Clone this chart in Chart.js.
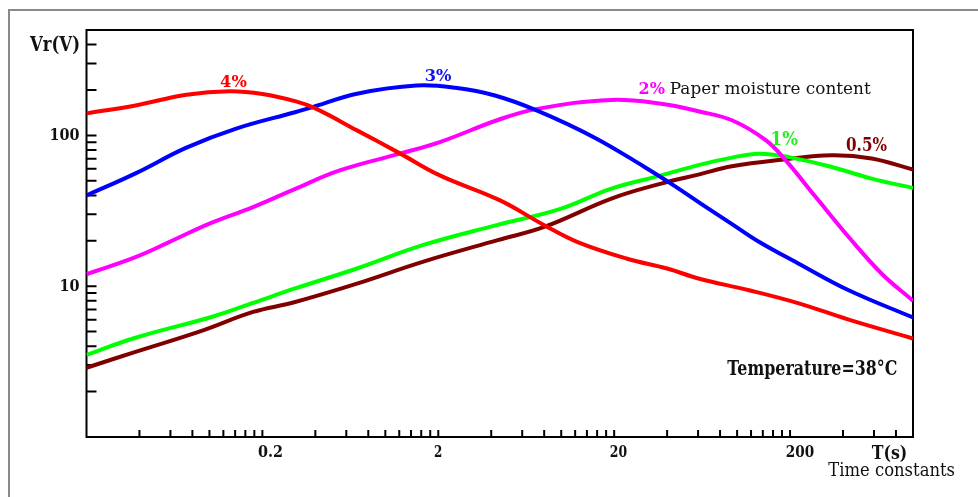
<!DOCTYPE html>
<html>
<head>
<meta charset="utf-8">
<script src="https://cdn.jsdelivr.net/npm/chart.js@4/dist/chart.umd.min.js"></script>
<style>
  html, body { margin: 0; padding: 0; background: #fff; }
  #wrap { position: relative; width: 978px; height: 497px; overflow: hidden; }
  #frame { position: absolute; left: 8px; top: 9px; right: -10px; bottom: -10px;
           border-left: 2px solid #8a8a8a; border-top: 2px solid #8a8a8a; }
  canvas { position: absolute; left: 0; top: 0; }
</style>
</head>
<body>
<div id="wrap"><div id="frame"></div><canvas id="c" width="978" height="497"></canvas></div>
<script>
// Residual voltage Vr (V) against time constant T (s), one curve per paper moisture content.
const T_4   = [0.02, 0.038, 0.074, 0.13, 0.2, 0.31, 0.4, 0.69, 1.21, 2.04, 4.46, 8.0, 12.4, 23.7, 40, 61, 117, 224, 431, 1000];
const VR_4  = [140, 158, 186, 196, 188, 168, 151, 108, 76, 54.3, 37.2, 25.4, 19.6, 15.2, 13.1, 11.2, 9.4, 7.7, 6.0, 4.5];

const T_3   = [0.02, 0.038, 0.074, 0.142, 0.31, 0.4, 0.69, 1.5, 2.5, 4.2, 7.3, 15.4, 29.6, 44, 65, 94, 133, 224, 431, 1000];
const VR_3  = [40, 56, 83, 111, 143, 156, 189, 214, 207, 184, 146, 97, 62, 46.3, 34.1, 25.7, 19.7, 14.1, 9.4, 6.2];

const T_2   = [0.02, 0.038, 0.059, 0.10, 0.177, 0.31, 0.55, 1.21, 2.04, 4.4, 7.3, 19.3, 37, 61, 93.5, 146, 189, 280, 431, 664, 1000];
const VR_2  = [12, 15.6, 19.6, 26, 33.5, 44.4, 58.6, 75.7, 90.3, 127, 150, 172, 162, 144, 126, 92.7, 68.3, 39, 21.2, 12.1, 8];

const T_1   = [0.02, 0.038, 0.105, 0.177, 0.31, 0.69, 1.63, 4.35, 10, 19.3, 37, 61, 93.5, 133, 197, 345, 582, 1000];
const VR_1  = [3.5, 4.55, 6.3, 7.75, 9.7, 13.1, 18.7, 25.5, 32.7, 44.4, 54.3, 63.8, 71.2, 75.7, 71.8, 61.7, 51.7, 44.8];

const T_05  = [0.02, 0.038, 0.092, 0.177, 0.3, 0.69, 1.63, 4.35, 8, 19.3, 37, 61, 93.5, 179, 345, 582, 1000];
const VR_05 = [2.88, 3.67, 5.1, 6.75, 7.8, 10.4, 14.5, 20.2, 24.7, 38.1, 47.9, 55.2, 62.4, 69, 73.8, 70.2, 59.3];

const seriesNames  = ['4%', '3%', '2%', '1%', '0.5%'];
const seriesColors = ['#ff0000', '#0000ff', '#ff00ff', '#00ff00', '#800000'];
const seriesT  = [T_4, T_3, T_2, T_1, T_05];
const seriesVr = [VR_4, VR_3, VR_2, VR_1, VR_05];

// Axis ranges and tick labels
const X_MIN = 0.02, X_MAX = 1000;
const Y_MIN = 1, Y_MAX = 500;
const xMajorTicks = [0.2, 2, 20, 200];
const xTickLabels = ['0.2', '2', '20', '200'];
const yMajorTicks = [10, 100];
const yTickLabels = ['10', '100'];

// Minor ticks at k * base inside every decade of the axis
function decadeTicks(bases, min, max) {
  const out = [];
  bases.forEach(b => { for (let k = 1; k <= 9; k++) { const v = b * k; if (v > min * 1.0001 && v < max * 0.9999) out.push(v); } });
  return out;
}
const xTicks = decadeTicks([0.02, 0.2, 2, 20, 200], X_MIN, X_MAX);
const yTicks = decadeTicks([1, 10, 100], Y_MIN, Y_MAX);

const FONT = '"DejaVu Serif", "Liberation Serif", serif';

// Curve labels, anchored in data coordinates (left edge, baseline)
const curveLabels = [
  { text: '4%',   t: 0.115, v: 209,  size: 16,   width: 26.7, color: '#ff0000', bold: true },
  { text: '3%',   t: 1.675, v: 229,  size: 17,   width: 26.7, color: '#1010f0', bold: true },
  { text: '2%',   t: 27.5,  v: 188,  size: 17.4, width: 26.4, color: '#ff00ff', bold: true },
  { text: 'Paper moisture content', t: 41.4, v: 188, size: 17, width: 201, color: '#111', bold: false },
  { text: '1%',   t: 155,   v: 86,   size: 18,   width: 27.3, color: '#22ee22', bold: true },
  { text: '0.5%', t: 416,   v: 78.7, size: 19,   width: 41,   color: '#800000', bold: true },
  { text: 'Temperature=38°C', t: 88, v: 2.57, size: 19.6, width: 170, color: '#111', bold: true }
];

function fitText(ctx, str, x, y, size, width, color, bold) {
  ctx.save();
  ctx.font = (bold ? 'bold ' : '') + size + 'px ' + FONT;
  ctx.textAlign = 'left';
  ctx.textBaseline = 'alphabetic';
  const w = ctx.measureText(str).width;
  ctx.translate(x, y);
  ctx.scale(width ? width / w : 1, 1);
  ctx.fillStyle = color;
  ctx.fillText(str, 0, 0);
  ctx.restore();
}

const framePlugin = {
  id: 'frameAxes',
  beforeDatasetsDraw(chart) {
    const { ctx, chartArea: a, scales: { x, y } } = chart;
    ctx.save();
    ctx.strokeStyle = '#000';
    ctx.lineWidth = 2;
    ctx.strokeRect(a.left, a.top, a.right - a.left, a.bottom - a.top);
    ctx.beginPath();
    xTicks.forEach(v => { const px = x.getPixelForValue(v); ctx.moveTo(px, a.bottom); ctx.lineTo(px, a.bottom - 7); });
    yTicks.forEach(v => { const py = y.getPixelForValue(v); ctx.moveTo(a.left, py); ctx.lineTo(a.left + 10, py); });
    ctx.stroke();
    ctx.restore();
  },
  afterDraw(chart) {
    const { ctx, chartArea: a, scales: { x, y } } = chart;
    // x tick labels
    const xWidths = [25, 8.3, 17.3, 28.3];
    xMajorTicks.forEach((v, i) => {
      const px = x.getPixelForValue(v);
      fitText(ctx, xTickLabels[i], px - 4.3, a.bottom + 20, 16, xWidths[i], '#111', true);
    });
    // y tick labels
    const yWidths = [20, 30];
    yMajorTicks.forEach((v, i) => {
      const py = y.getPixelForValue(v);
      fitText(ctx, yTickLabels[i], a.left - 7 - yWidths[i], py + 4.5, 17, yWidths[i], '#111', true);
    });
    // axis titles
    fitText(ctx, 'Vr(V)', 30, 50.5, 20, 50, '#111', true);
    fitText(ctx, 'T(s)', 871.7, 459, 18, 35.6, '#111', true);
    fitText(ctx, 'Time constants', 828.3, 476, 18.8, 126.7, '#111', false);
    // curve labels and note
    curveLabels.forEach(l => {
      fitText(ctx, l.text, x.getPixelForValue(l.t), y.getPixelForValue(l.v), l.size, l.width, l.color, l.bold);
    });
  }
};

const datasets = seriesNames.map((name, i) => ({
  label: name,
  data: seriesT[i].map((t, j) => ({ x: t, y: seriesVr[i][j] })),
  borderColor: seriesColors[i],
  backgroundColor: seriesColors[i],
  borderWidth: 4,
  pointRadius: 0,
  showLine: true,
  fill: false,
  tension: 0.4,
  clip: 0
}));

new Chart(document.getElementById('c'), {
  type: 'scatter',
  data: { datasets },
  options: {
    responsive: false,
    animation: false,
    devicePixelRatio: 1,
    layout: { padding: { left: 86.5, right: 65, top: 30, bottom: 60 } },
    plugins: { legend: { display: false }, tooltip: { enabled: false } },
    scales: {
      x: { type: 'logarithmic', min: X_MIN, max: X_MAX, display: false },
      y: { type: 'logarithmic', min: Y_MIN, max: Y_MAX, display: false }
    }
  },
  plugins: [framePlugin]
});
</script>
</body>
</html>
